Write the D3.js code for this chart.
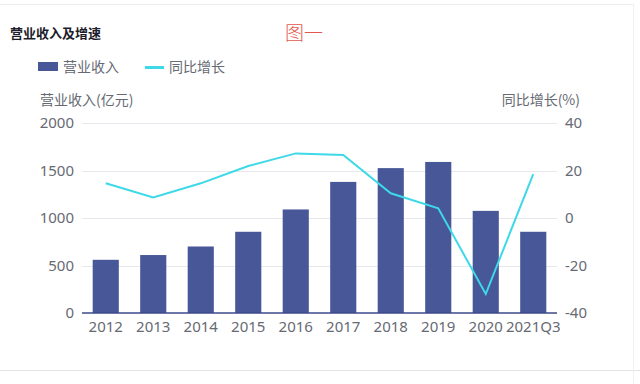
<!DOCTYPE html>
<html>
<head>
<meta charset="utf-8">
<script src="https://cdn.jsdelivr.net/npm/d3@7"></script>
<style>
  html, body { margin: 0; padding: 0; background: #fff; }
  svg { display: block; font-family: "Noto Sans CJK SC", "Noto Sans", sans-serif; }
</style>
</head>
<body>
<svg id="chart" width="640" height="384"></svg>
<script>
const categories = ['2012', '2013', '2014', '2015', '2016', '2017', '2018', '2019', '2020', '2021Q3']
const revenue = [560, 610, 700, 855, 1090, 1380, 1525, 1590, 1075, 855]
const growth = [14.6, 8.7, 14.6, 21.9, 27.2, 26.5, 10.4, 4.1, -32, 18.5]
const leftTicks = [0, 500, 1000, 1500, 2000]
const rightTicks = [-40, -20, 0, 20, 40]

const BAR_COLOR = '#475797'
const LINE_COLOR = '#3dd9e8'
const TEXT_COLOR = '#666a73'

const svg = d3.select('#chart')
const margin = { left: 82, right: 83, top: 123, bottom: 71 }
const width = 640, height = 384

// panel frame
svg.append('rect').attr('x', 0).attr('y', 0).attr('width', width).attr('height', height).attr('fill', '#fff')
svg.append('line').attr('x1', 0).attr('x2', 633).attr('y1', 4.5).attr('y2', 4.5).attr('stroke', '#ececec')
svg.append('line').attr('x1', 0).attr('x2', 640).attr('y1', 370.5).attr('y2', 370.5).attr('stroke', '#e4e4e4')
svg.append('line').attr('x1', 633.5).attr('x2', 633.5).attr('y1', 4).attr('y2', 384).attr('stroke', '#f0f0f0')

const x = d3.scaleBand()
  .domain(categories)
  .range([margin.left, width - margin.right])
  .paddingInner(0.45)
  .paddingOuter(0.225)

const yL = d3.scaleLinear().domain([0, 2000]).range([height - margin.bottom, margin.top])
const yR = d3.scaleLinear().domain([-40, 40]).range([height - margin.bottom, margin.top])

// gridlines
svg.append('g')
  .selectAll('line')
  .data(leftTicks.slice(1))
  .join('line')
  .attr('x1', margin.left)
  .attr('x2', width - margin.right)
  .attr('y1', (d) => Math.round(yL(d)) + 0.5)
  .attr('y2', (d) => Math.round(yL(d)) + 0.5)
  .attr('stroke', '#e6e8ee')

// bars
svg.append('g')
  .selectAll('rect')
  .data(revenue)
  .join('rect')
  .attr('x', (d, i) => x(categories[i]))
  .attr('y', (d) => yL(d))
  .attr('width', x.bandwidth())
  .attr('height', (d) => yL(0) - yL(d))
  .attr('fill', BAR_COLOR)

// baseline
svg.append('line')
  .attr('x1', margin.left)
  .attr('x2', width - margin.right)
  .attr('y1', yL(0))
  .attr('y2', yL(0))
  .attr('stroke', '#3d4a8a')
  .attr('stroke-width', 1.5)

// growth line
const line = d3.line()
  .x((d, i) => x(categories[i]) + x.bandwidth() / 2)
  .y((d) => yR(d))

svg.append('path')
  .datum(growth)
  .attr('d', line)
  .attr('fill', 'none')
  .attr('stroke', LINE_COLOR)
  .attr('stroke-width', 2)

// axes
const leftAxis = svg.append('g')
  .attr('transform', `translate(${margin.left - 8},0)`)
  .call(d3.axisLeft(yL).tickValues(leftTicks).tickSize(0).tickPadding(0).tickFormat(d3.format('d')))
const rightAxis = svg.append('g')
  .attr('transform', `translate(${width - margin.right + 8},0)`)
  .call(d3.axisRight(yR).tickValues(rightTicks).tickSize(0).tickPadding(0).tickFormat(d3.format('d')))
const bottomAxis = svg.append('g')
  .attr('transform', `translate(0,${yL(0)})`)
  .call(d3.axisBottom(x).tickSize(0).tickPadding(8))

for (const ax of [leftAxis, rightAxis, bottomAxis]) {
  ax.select('.domain').remove()
  ax.selectAll('text')
    .attr('fill', TEXT_COLOR)
    .attr('font-size', 15)
    .attr('font-family', '"Noto Sans", sans-serif')
}
bottomAxis.selectAll('text').attr('dy', '0.75em')
rightAxis.selectAll('text').text((d) => (d < 0 ? '-' + Math.abs(d) : d))

// axis titles
svg.append('text')
  .attr('x', 40).attr('y', 105)
  .attr('font-size', 14).attr('fill', TEXT_COLOR)
  .text('营业收入(亿元)')
svg.append('text')
  .attr('x', 580).attr('y', 105)
  .attr('text-anchor', 'end')
  .attr('font-size', 14).attr('fill', TEXT_COLOR)
  .text('同比增长(%)')

// title
svg.append('text')
  .attr('x', 10).attr('y', 38)
  .attr('font-size', 13).attr('font-weight', 'bold').attr('fill', '#1c1c2a')
  .text('营业收入及增速')
svg.append('text')
  .attr('x', 285).attr('y', 40)
  .attr('font-size', 19).attr('font-weight', 300).attr('fill', '#e2574f')
  .text('图一')

// legend
const legend = svg.append('g').attr('font-size', 14).attr('fill', TEXT_COLOR)
legend.append('rect').attr('x', 38).attr('y', 62).attr('width', 20).attr('height', 9).attr('fill', BAR_COLOR)
legend.append('text').attr('x', 63).attr('y', 72).text('营业收入')
legend.append('line').attr('x1', 145).attr('x2', 164).attr('y1', 67.5).attr('y2', 67.5)
  .attr('stroke', LINE_COLOR).attr('stroke-width', 3)
legend.append('text').attr('x', 169).attr('y', 72).text('同比增长')
</script>
</body>
</html>
